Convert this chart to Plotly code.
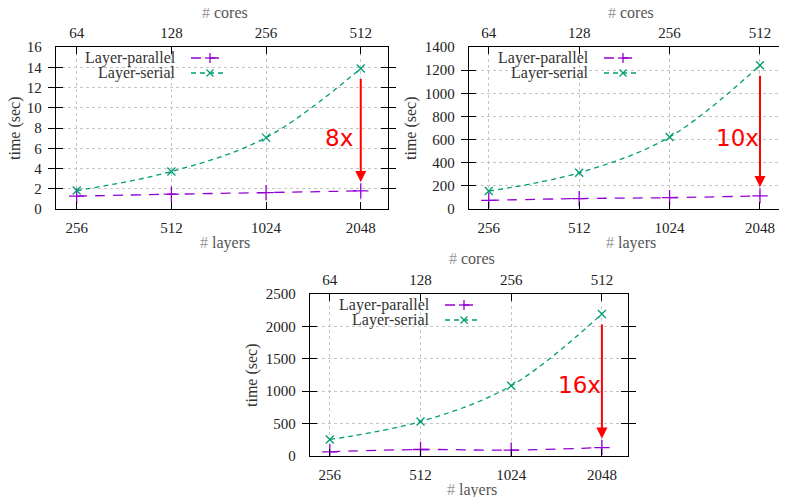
import math
import plotly.graph_objects as go

# ---------------- data ----------------
layers = [256, 512, 1024, 2048]
cores = [64, 128, 256, 512]
layer_labels = ["256", "512", "1024", "2048"]
core_labels = ["64", "128", "256", "512"]

p1_parallel = [1.27, 1.46, 1.62, 1.79]
p1_serial = [1.82, 3.7, 7.05, 13.88]

p2_parallel = [75, 90, 98, 113]
p2_serial = [155, 313, 622, 1242]

p3_parallel = [65, 100, 90, 130]
p3_serial = [255, 533, 1085, 2192]

speedups = ["8x", "10x", "16x"]
y_max = [16, 1400, 2500]
y_dtick = [2, 200, 500]

# ---------------- layout helpers ----------------
# the page body adds an 8px margin, so the figure is drawn 8px smaller
OFF = 8
W, H = 787 - OFF, 497 - OFF
def px(x):
    return (x - OFF) / W
def py(y):
    return 1 - (y - OFF) / H

boxes = [  # left, right, top, bottom in window pixels
    (56, 388, 47, 209),
    (469, 786, 47, 209),
    (310, 628, 294, 456),
]
ytitle_off = [41, 58, 58]

PURPLE = "#9400d3"
GREEN = "#009e73"
RED = "#ff0000"
SERIF = "Liberation Serif"
xr = [math.log10(220), math.log10(2500)]

fig = go.Figure()
series = [(p1_parallel, p1_serial), (p2_parallel, p2_serial), (p3_parallel, p3_serial)]

annotations = []
shapes = []
layout = {}

def note(x, y, text, font, **kw):
    d = dict(x=x, y=y, xref="paper", yref="paper", text=text, showarrow=False,
             xanchor="center", yanchor="middle", font=font)
    d.update(kw)
    annotations.append(d)

for i, (par, ser) in enumerate(series):
    n = i + 1
    sx = "" if n == 1 else str(n)
    xa, ya = "x" + sx, "y" + sx
    L, R, T, B = boxes[i]

    fig.add_trace(go.Scatter(
        x=layers, y=par, xaxis=xa, yaxis=ya, mode="lines+markers",
        name="Layer-parallel", showlegend=False, line_shape="spline",
        line=dict(color=PURPLE, width=1.3, dash="10px,8px"),
        marker=dict(symbol="cross-thin", size=11, line=dict(color=PURPLE, width=1.3)),
    ))
    fig.add_trace(go.Scatter(
        x=layers, y=ser, xaxis=xa, yaxis=ya, mode="lines+markers",
        name="Layer-serial", showlegend=False, line_shape="spline",
        line=dict(color=GREEN, width=1.3, dash="5px,4px"),
        marker=dict(symbol="x-thin", size=8, line=dict(color=GREEN, width=1.3)),
    ))

    top_name = "xaxis" + str(n + 3)
    layout["xaxis" + sx] = dict(
        domain=[px(L), px(R)], anchor=ya, type="log", range=xr, automargin=False,
        tickvals=layers, ticktext=layer_labels, ticks="inside", ticklen=7,
        tickcolor="black", showline=True, linecolor="black", linewidth=1.3,
        mirror=True, showgrid=True, gridcolor="#c4c4c4", griddash="dot",
        gridwidth=1, zeroline=False, ticklabelstandoff=5,
        tickfont=dict(family=SERIF, size=15, color="#222"),
    )
    layout[top_name] = dict(
        overlaying=xa, anchor=ya, side="top", type="log", range=xr, automargin=False,
        tickvals=layers, ticktext=core_labels, ticks="inside", ticklen=7,
        tickcolor="black", showgrid=False, zeroline=False, showline=False,
        ticklabelstandoff=5,
        tickfont=dict(family=SERIF, size=15, color="#222"),
    )
    layout["yaxis" + sx] = dict(
        domain=[py(B), py(T)], anchor=xa, range=[0, y_max[i]], dtick=y_dtick[i],
        automargin=False,
        ticks="inside", ticklen=7, tickcolor="black", showline=True,
        linecolor="black", linewidth=1.3, mirror="allticks", showgrid=True,
        gridcolor="#c4c4c4", griddash="dot", gridwidth=1, zeroline=False,
        ticklabelstandoff=10,
        tickfont=dict(family=SERIF, size=15, color="#222"),
    )
    # invisible trace so the top axis is drawn
    fig.add_trace(go.Scatter(x=layers, y=ser, xaxis="x" + str(n + 3), yaxis=ya,
                             mode="markers", marker=dict(opacity=0), showlegend=False,
                             hoverinfo="skip"))

    # axis titles
    note(px((L + R) / 2 + 3), py(B + 34), "<span style='color:#999'>#</span> layers",
         dict(family=SERIF, size=16, color="#555"))
    note(px((L + R) / 2 + 3), py(T - 35), "<span style='color:#999'>#</span> cores",
         dict(family=SERIF, size=16, color="#555"))
    note(px(L - ytitle_off[i]), py((T + B) / 2), "time (sec)",
         dict(family=SERIF, size=16, color="#333"), textangle=-90)

    # speedup arrow + label (log axis: annotation x in log10 units)
    lx = math.log10(layers[-1])
    annotations.append(dict(x=lx, y=par[-1], ax=lx, ay=ser[-1],
                            xref=xa, yref=ya, axref=xa, ayref=ya, text="",
                            showarrow=True, arrowhead=2, arrowsize=1.1, arrowwidth=2,
                            arrowcolor=RED, standoff=9, startstandoff=9))
    note(px(R - 49), py(T + (B - T) * 0.56), speedups[i],
         dict(family="DejaVu Sans", size=23, color=RED))

    # key (legend) drawn like gnuplot: right-aligned text, sample to the right
    shapes.append(dict(type="rect", xref="paper", yref="paper", layer="between",
                       x0=px(L + 2), x1=px(L + 182), y0=py(T + 34), y1=py(T + 2),
                       fillcolor="white", line=dict(width=0)))
    rows = [("Layer-parallel", PURPLE, "10px,8px", "plus", 11),
            ("Layer-serial", GREEN, "5px,4px", "x", 26)]
    for label, col, dash, sym, dy in rows:
        yy = T + dy
        note(px(L + 122), py(yy), label, dict(family=SERIF, size=16, color="#333"),
             xanchor="right")
        shapes.append(dict(type="line", xref="paper", yref="paper",
                           x0=px(L + 135), x1=px(L + 171), y0=py(yy), y1=py(yy),
                           line=dict(color=col, width=1.3, dash=dash)))
        cx = L + 154
        if sym == "plus":
            shapes.append(dict(type="line", xref="paper", yref="paper", x0=px(cx - 5), x1=px(cx + 5),
                               y0=py(yy), y1=py(yy), line=dict(color=col, width=1.3)))
            shapes.append(dict(type="line", xref="paper", yref="paper", x0=px(cx), x1=px(cx),
                               y0=py(yy - 5), y1=py(yy + 5), line=dict(color=col, width=1.3)))
        else:
            shapes.append(dict(type="line", xref="paper", yref="paper", x0=px(cx - 3.5), x1=px(cx + 3.5),
                               y0=py(yy - 3.5), y1=py(yy + 3.5), line=dict(color=col, width=1.3)))
            shapes.append(dict(type="line", xref="paper", yref="paper", x0=px(cx - 3.5), x1=px(cx + 3.5),
                               y0=py(yy + 3.5), y1=py(yy - 3.5), line=dict(color=col, width=1.3)))

fig.update_layout(
    width=W, height=H, margin=dict(l=0, r=0, t=0, b=0, autoexpand=False),
    paper_bgcolor="white", plot_bgcolor="white",
    showlegend=False, annotations=annotations, shapes=shapes,
    **layout,
)

fig.write_html("out.html")
